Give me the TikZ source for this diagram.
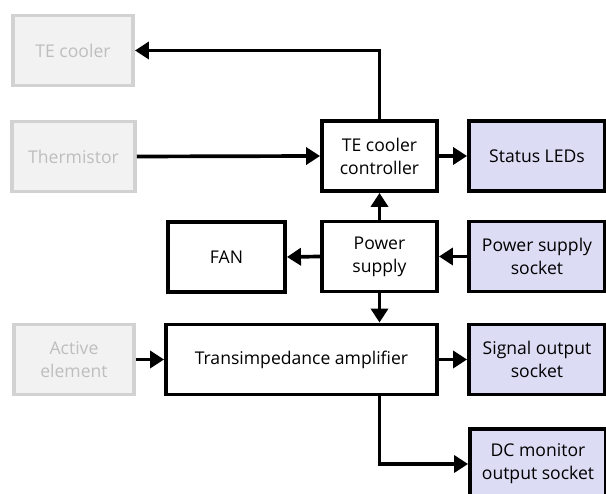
\documentclass[tikz,border=0pt]{standalone}
\usepackage{fontspec}
\setmainfont{Open Sans}
\usetikzlibrary{arrows.meta}

\definecolor{passivefill}{RGB}{242,242,242}
\definecolor{passiveline}{RGB}{210,210,210}
\definecolor{passivetext}{RGB}{190,190,190}
\definecolor{socketfill}{RGB}{220,220,245}

\tikzset{
    block/.style = {draw, line width = 2.2pt, fill = white, align = center, inner sep = 0pt, minimum height = 1.4cm, font = \fontsize{10}{13}\selectfont},
    passive/.style = {block, draw = passiveline, fill = passivefill, text = passivetext},
    socket/.style = {block, fill = socketfill},
    link/.style = {line width = 2.1pt, -{Triangle[length = 0.28cm, width = 0.34cm]}}
}

\begin{document}
\begin{tikzpicture}

    \clip (0, 0) rectangle (12.12, 9.88);

    % Outer parts
    \node[passive, minimum width = 2.4cm] (cooler) at (1.46, 8.87) {TE cooler};
    \node[passive, minimum width = 2.46cm] (thermistor) at (1.47, 6.75) {Thermistor};
    \node[passive, minimum width = 2.4cm] (active) at (1.48, 2.69) {Active\\element};

    % Electronics
    \node[block, minimum width = 2.3cm] (controller) at (7.59, 6.76) {TE cooler\\controller};
    \node[block, minimum width = 2.3cm] (supply) at (7.59, 4.75) {Power\\supply};
    \node[block, minimum width = 2.34cm] (fan) at (4.53, 4.74) {FAN};
    \node[block, minimum width = 5.42cm] (tia) at (6.03, 2.69) {Transimpedance amplifier};

    % Sockets
    \node[socket, minimum width = 2.72cm] (leds) at (10.74, 6.76) {Status LEDs};
    \node[socket, minimum width = 2.72cm] (psocket) at (10.74, 4.75) {Power supply\\socket};
    \node[socket, minimum width = 2.72cm] (sigout) at (10.74, 2.69) {Signal output\\socket};
    \node[socket, minimum width = 2.72cm] (dcout) at (10.76, 0.6) {DC monitor\\output socket};

    % Connections
    \draw[link] (controller.north) |- (cooler.east);
    \draw[link] (thermistor.east) -- (controller.west);
    \draw[link] (controller.east) -- (leds.west);
    \draw[link] (supply.north) -- (controller.south);
    \draw[link] (supply.west) -- (fan.east);
    \draw[link] (psocket.west) -- (supply.east);
    \draw[link] (supply.south) -- (supply.south |- tia.north);
    \draw[link] (active.east) -- (tia.west);
    \draw[link] (tia.east) -- (sigout.west);
    \draw[link] (supply.south |- tia.south) |- (dcout.west);

\end{tikzpicture}
\end{document}
